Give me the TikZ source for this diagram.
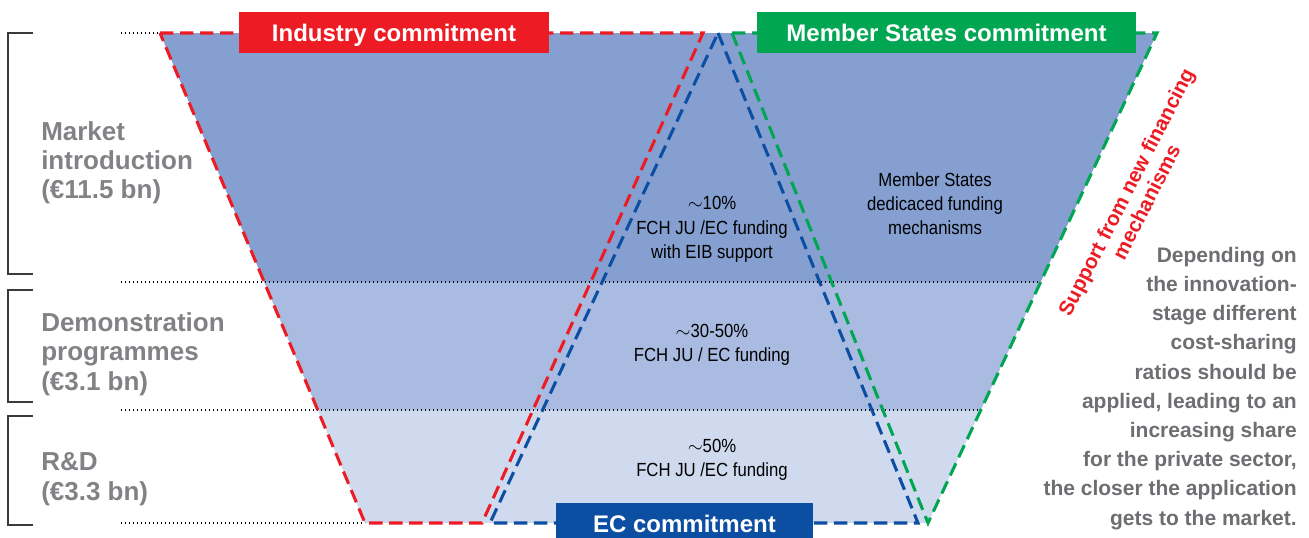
\documentclass[tikz,border=0pt]{standalone}
\usepackage{fontspec}
\setmainfont{Liberation Sans}
\newfontfamily\condfont[FakeStretch=0.88]{Liberation Sans}

\definecolor{indred}{HTML}{ED1C24}
\definecolor{msgreen}{HTML}{00A651}
\definecolor{ecblue}{HTML}{0B4EA2}
\definecolor{bandA}{HTML}{849FD0}
\definecolor{bandB}{HTML}{A9BBE0}
\definecolor{bandC}{HTML}{D0DAEE}
\definecolor{labelgray}{HTML}{808285}
\definecolor{notegray}{HTML}{6D6E71}
\definecolor{bracketgray}{HTML}{3A3A3A}

\tikzset{
  share/.style={line width=2.3pt, dash pattern=on 10pt off 5pt, line join=miter},
  dotline/.style={line width=1.1pt, dash pattern=on 1.1pt off 1.9pt, black},
  bracketline/.style={line width=1.1pt, bracketgray},
  tagbox/.style={inner sep=0pt, minimum width=#1, minimum height=30.75pt,
    text depth=0pt, text=white, font=\fontsize{18}{21}\selectfont\bfseries},
  stagelabel/.style={anchor=base west, align=left, text=labelgray, inner sep=0pt,
    font=\fontsize{19.5}{21.9}\selectfont\bfseries},
  sharetext/.style={anchor=base, align=center, inner sep=0pt,
    font=\condfont\fontsize{14.25}{18}\selectfont},
  notetext/.style={anchor=base east, align=right, text=notegray, inner sep=0pt,
    font=\fontsize{15.75}{21.9}\selectfont\bfseries},
}

\begin{document}
\begin{tikzpicture}[x=0.75pt,y=-0.75pt]
\useasboundingbox (0,0) rectangle (1309,538);

% funnel corners
\coordinate (TL) at (160,33);
\coordinate (TR) at (1157,33);
\coordinate (BR) at (928,523);
\coordinate (BL) at (365,523);
% industry share
\coordinate (RT) at (703,33);
\coordinate (RB) at (482,523);
% EC share
\coordinate (BA) at (718,33);
\coordinate (BBL) at (490,523);
\coordinate (BBR) at (918,523);
% Member States share
\coordinate (GT) at (732,33);

% stage bands inside the funnel
\begin{scope}
  \clip (TL) -- (TR) -- (BR) -- (BL) -- cycle;
  \fill[bandA] (0,33) rectangle (1309,282);
  \fill[bandB] (0,282) rectangle (1309,410);
  \fill[bandC] (0,410) rectangle (1309,523);
\end{scope}

% stage boundaries
\coordinate (D0) at (121,33);
\coordinate (D1) at (121,282);
\coordinate (D1e) at (1041,282);
\coordinate (D2) at (121,410);
\coordinate (D2e) at (981,410);
\coordinate (D3) at (121,523);
\draw[dotline] (D0) -- (TL);
\draw[dotline] (D1) -- (D1e);
\draw[dotline] (D2) -- (D2e);
\draw[dotline] (D3) -- (BL);

% stage brackets
\draw[bracketline] (33,33) -- (8,33) -- (8,274) -- (33,274);
\draw[bracketline] (33,290) -- (8,290) -- (8,402) -- (33,402);
\draw[bracketline] (33,416) -- (8,416) -- (8,525) -- (33,525);

% commitment outlines
\draw[share, indred] (TL) -- (RT) -- (RB) -- (BL) -- cycle;
\draw[share, ecblue] (BA) -- (BBR) -- (BBL) -- cycle;
\draw[share, msgreen] (GT) -- (TR) -- (BR) -- cycle;

% commitment tags
\node[tagbox=232.5pt, fill=indred] (ind) at (394,32.5) {Industry commitment};
\node[tagbox=284.25pt, fill=msgreen] (ms) at (946.5,32.5) {Member States commitment};
\node[tagbox=192.75pt, fill=ecblue] (ec) at (684.5,523.5) {EC commitment};

% stage labels (anchored at the baseline of the last line)
\node[stagelabel] (lmarket) at (41,199) {Market\\introduction\\(€11.5 bn)};
\node[stagelabel] (ldemo) at (41,390) {Demonstration\\programmes\\(€3.1 bn)};
\node[stagelabel] (lrd) at (41,500) {R\&D\\(€3.3 bn)};

% funding shares
\node[sharetext] (s10) at (712,258) {$\sim$10\%\\FCH JU /EC funding\\with EIB support};
\node[sharetext] (sms) at (935,235) {Member States\\dedicaced funding\\mechanisms};
\node[sharetext] (s30) at (712,361) {$\sim$30-50\%\\FCH JU / EC funding};
\node[sharetext] (s50) at (712,476) {$\sim$50\%\\FCH JU /EC funding};

% new financing mechanisms
\node[rotate=63, align=center, text=indred, inner sep=0pt,
  font=\fontsize{15.5}{17}\selectfont\bfseries] (newfin) at (1136,197)
  {Support from new financing\\mechanisms};

% side note
\node[notetext] (note) at (1297,525) {Depending on\\the innovation-\\stage different\\cost-sharing\\ratios should be\\applied, leading to an\\increasing share\\for the private sector,\\the closer the application\\gets to the market.};
\end{tikzpicture}
\end{document}
